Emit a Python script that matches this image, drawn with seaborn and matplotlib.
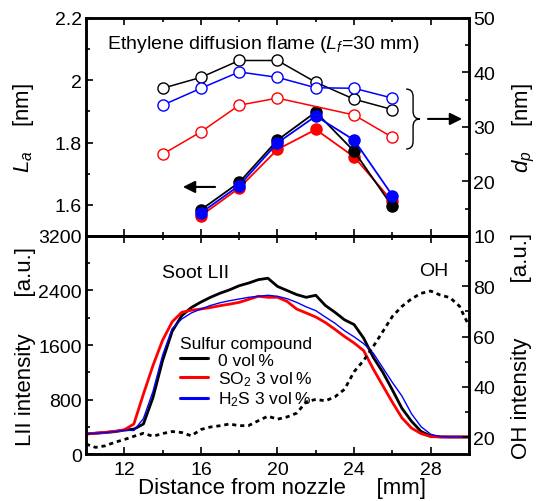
import numpy as np
import pandas as pd
import seaborn as sns
import matplotlib
matplotlib.use("Agg")
import matplotlib.pyplot as plt
from matplotlib.path import Path
from matplotlib.patches import PathPatch
from matplotlib.lines import Line2D
from matplotlib.ticker import MultipleLocator, FixedLocator, FuncFormatter


# Top panel: crystallite length La (filled) and primary particle size dp (open)
POS_DP = [14, 16, 18, 20, 22, 24, 26]
DP_0 = [37.1, 39.1, 42.2, 42.2, 38.2, 35.1, 33.2]
DP_SO2 = [25.0, 29.1, 34.0, 35.3, np.nan, 32.2, 28.1]
DP_H2S = [34.0, 37.1, 40.1, 39.1, 37.2, 37.1, 35.3]

POS_LA = [16, 18, 20, 22, 24, 26]
LA_0 = [1.584, 1.672, 1.808, 1.898, 1.772, 1.595]
LA_SO2 = [1.565, 1.654, 1.778, 1.842, 1.754, 1.611]
LA_H2S = [1.574, 1.662, 1.799, 1.885, 1.808, 1.630]

# Bottom panel: LII and OH profiles along the flame axis
DIST = [10, 10.5, 11, 11.5, 12, 12.5, 13, 13.5, 14, 14.5, 15, 15.5, 16, 16.5,
        17, 17.5, 18, 18.5, 19, 19.5, 20, 20.5, 21, 21.5, 22, 22.5, 23, 23.5,
        24, 24.5, 25, 25.5, 26, 26.5, 27, 27.5, 28, 28.5, 29, 29.5, 30]
LII_0 = [294, 305, 315, 328, 350, 365, 440, 830, 1370, 1800, 2030, 2150, 2230, 2300,
         2360, 2410, 2470, 2510, 2559, 2580, 2460, 2400, 2340, 2300, 2330, 2180, 2080, 1970,
         1900, 1700, 1420, 1200, 940, 670, 480, 330, 265, 252, 250, 250, 250]
LII_SO2 = [294, 305, 318, 333, 355, 440, 880, 1300, 1670, 1940, 2080, 2110, 2128, 2150,
           2177, 2200, 2226, 2270, 2315, 2300, 2300, 2240, 2128, 2070, 2011, 1930, 1830, 1725,
           1630, 1517, 1248, 1003, 759, 530, 380, 300, 255, 250, 250, 250, 250]
LII_H2S = [294, 305, 315, 328, 350, 345, 520, 920, 1450, 1840, 1982, 2070, 2128, 2180,
           2220, 2250, 2275, 2300, 2315, 2330, 2315, 2280, 2226, 2160, 2104, 2010, 1920, 1810,
           1720, 1620, 1480, 1265, 1050, 850, 590, 400, 290, 255, 250, 250, 250]
OH = [17.2, 15.9, 16.5, 17.9, 19.0, 20.3, 21.5, 20.3, 21.4, 22.2, 21.8, 20.5, 23.0, 24.0,
      24.5, 25.2, 24.5, 24.6, 26.5, 28.3, 27.1, 28.0, 29.5, 34.0, 35.0, 34.4, 36.0, 39.0,
      46.0, 50.5, 56.0, 62.0, 68.0, 72.0, 75.0, 77.2, 78.1, 76.5, 75.5, 72.1, 64.2]

COLORS = {"0": "#000000", "SO2": "#ff0000", "H2S": "#0000ff"}
LEGEND_LABELS = ["0 vol\u2009%", "SO$_2$ 3 vol\u2009%", "H$_2$S 3 vol\u2009%"]


sns.set_style("ticks", {"axes.edgecolor": "black", "xtick.color": "black",
                        "ytick.color": "black", "text.color": "black",
                        "axes.labelcolor": "black"})
plt.rcParams["font.family"] = ["Liberation Sans", "DejaVu Sans"]
plt.rcParams["mathtext.fontset"] = "custom"
plt.rcParams["mathtext.rm"] = "Liberation Sans"
plt.rcParams["mathtext.it"] = "Liberation Sans:italic"


def style_axis(ax, right=False):
    for spine in ax.spines.values():
        spine.set_linewidth(1.8)
    ax.tick_params(which="both", direction="in", width=1.2, labelsize=14, pad=3,
                   top=True, bottom=True, left=not right, right=right)
    ax.tick_params(which="major", length=5)
    ax.tick_params(which="minor", length=3)


fig = plt.figure(figsize=(5.36, 5.02), dpi=100)
ax_top = fig.add_axes([0.1604, 0.5279, 0.7146, 0.4343])
ax_bot = fig.add_axes([0.1604, 0.0936, 0.7146, 0.4343])
ax_top_r = ax_top.twinx()
ax_bot_r = ax_bot.twinx()

# filled circles: La on the left axis
for key, vals in [("SO2", LA_SO2), ("0", LA_0), ("H2S", LA_H2S)]:
    c = COLORS[key]
    sns.lineplot(x=POS_LA, y=vals, ax=ax_top, color=c, lw=1.3, marker="o", ms=8,
                 mfc=c, mec=c, mew=1, errorbar=None, legend=False)

# open circles: dp on the right axis
for key, vals in [("0", DP_0), ("SO2", DP_SO2), ("H2S", DP_H2S)]:
    c = COLORS[key]
    sns.lineplot(x=POS_DP, y=vals, ax=ax_top_r, color=c, lw=1.1, marker="o", ms=8,
                 mfc="white", mec=c, mew=1, errorbar=None, legend=False)

# LII profiles
for key, vals, lw in [("0", LII_0, 2.0), ("SO2", LII_SO2, 2.0), ("H2S", LII_H2S, 1.0)]:
    sns.lineplot(x=DIST, y=vals, ax=ax_bot, color=COLORS[key], lw=lw,
                 errorbar=None, legend=False)

# OH profile
sns.lineplot(x=DIST, y=OH, ax=ax_bot_r, color="black", lw=2.0,
             linestyle=(0, (1.5, 1.4)), errorbar=None, legend=False)

# axis limits and ticks
for ax in (ax_top, ax_bot):
    ax.set_xlim(10, 30)
    ax.xaxis.set_major_locator(MultipleLocator(4))
    ax.xaxis.set_minor_locator(MultipleLocator(2))

ax_top.set_ylim(1.5, 2.2)
ax_top.yaxis.set_major_locator(MultipleLocator(0.2))
ax_top.yaxis.set_minor_locator(MultipleLocator(0.1))
ax_top.yaxis.set_major_formatter(FuncFormatter(lambda v, p: f"{v:g}"))
ax_top_r.set_ylim(10, 50)
ax_top_r.yaxis.set_major_locator(MultipleLocator(10))
ax_top_r.yaxis.set_minor_locator(MultipleLocator(5))

ax_bot.set_ylim(0, 3200)
ax_bot.yaxis.set_major_locator(MultipleLocator(800))
ax_bot.yaxis.set_minor_locator(MultipleLocator(400))
ax_bot_r.set_ylim(13.25, 100)
ax_bot_r.yaxis.set_major_locator(FixedLocator([20, 40, 60, 80]))
ax_bot_r.yaxis.set_minor_locator(FixedLocator([30, 50, 70, 90]))

for ax in (ax_top, ax_bot):
    style_axis(ax)
for ax in (ax_top_r, ax_bot_r):
    style_axis(ax, right=True)
ax_top.tick_params(labelbottom=False)
ax_bot.tick_params(axis="x", pad=5)

# axis labels
ax_top.set_ylabel("$L_a$    [nm]", fontsize=16)
ax_top.yaxis.set_label_coords(-0.13, 0.5)
ax_top_r.set_ylabel("$d_p$    [nm]", fontsize=16, rotation=90)
ax_top_r.yaxis.set_label_coords(1.11, 0.5)
ax_bot.set_ylabel("LII intensity      [a.u.]", fontsize=16)
ax_bot.yaxis.set_label_coords(-0.13, 0.5)
ax_bot_r.set_ylabel("OH intensity         [a.u.]", fontsize=16, rotation=90)
ax_bot_r.yaxis.set_label_coords(1.11, 0.5)
ax_bot.set_xlabel("Distance from nozzle     [mm]", fontsize=16)
ax_bot.xaxis.set_label_coords(0.512, -0.105)
ax_top.set_xlabel("")
ax_top_r.set_xlabel("")
ax_bot_r.set_xlabel("")

# annotations
ax_top.text(0.055, 0.883, "Ethylene diffusion flame ($L_f$=30 mm)", fontsize=14,
            transform=ax_top.transAxes, va="center", ha="left")
ax_bot.text(0.198, 0.833, "Soot LII", fontsize=14, transform=ax_bot.transAxes,
            va="center", ha="left")
ax_bot.text(0.869, 0.842, "OH", fontsize=14, transform=ax_bot.transAxes,
            va="center", ha="left")

arrow_kw = dict(arrowstyle="-|>", color="black", lw=1.5, mutation_scale=18,
                shrinkA=0, shrinkB=0)
ax_top_r.annotate("", xy=(0.253, 0.225), xytext=(0.337, 0.225),
                  xycoords="axes fraction", arrowprops=arrow_kw)
ax_top_r.annotate("", xy=(0.982, 0.537), xytext=(0.893, 0.537),
                  xycoords="axes fraction", arrowprops=arrow_kw)

# curly brace grouping the open-circle curves
x0, x1, xm = 0.836, 0.872, 0.854
yt, ym, yb, d = 0.674, 0.537, 0.399, 0.035
brace = Path(
    [(x0, yt), (xm, yt), (xm, yt - d), (xm, ym + d), (xm, ym), (x1, ym),
     (xm, ym), (xm, ym - d), (xm, yb + d), (xm, yb), (x0, yb)],
    [Path.MOVETO, Path.CURVE3, Path.CURVE3, Path.LINETO, Path.CURVE3, Path.CURVE3,
     Path.CURVE3, Path.CURVE3, Path.LINETO, Path.CURVE3, Path.CURVE3])
ax_top_r.add_patch(PathPatch(brace, transform=ax_top_r.transAxes, fill=False,
                             lw=1.0, color="black", clip_on=False))

# legend for the sulfur compound
handles = [Line2D([], [], color=COLORS[k], lw=2.2) for k in ("0", "SO2", "H2S")]
ax_bot.legend(handles, LEGEND_LABELS, title="Sulfur compound", loc="upper left",
              bbox_to_anchor=(0.245, 0.543), frameon=False, fontsize=12.5,
              title_fontsize=12.5, handlelength=1.6, handletextpad=0.6,
              labelspacing=0.1, borderpad=0, borderaxespad=0, alignment="left")

fig.savefig("out.png", dpi=100)
